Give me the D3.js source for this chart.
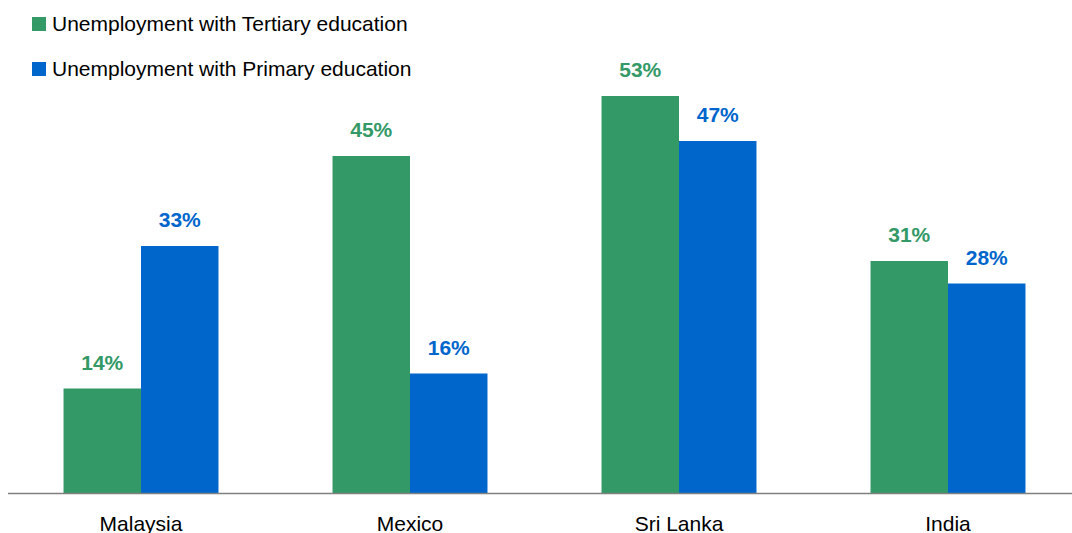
<!DOCTYPE html>
<html>
<head>
<meta charset="utf-8">
<script src="https://cdn.jsdelivr.net/npm/d3@7.9.0/dist/d3.min.js"></script>
<style>
  body { margin: 0; background: #fff; }
  svg { display: block; font-family: Arial, "Liberation Sans", sans-serif; }
</style>
</head>
<body>
<div id="chart"></div>
<script>
const countries = ['Malaysia', 'Mexico', 'Sri Lanka', 'India'];
const seriesNames = ['Unemployment with Tertiary education', 'Unemployment with Primary education'];
const tertiary = [14, 45, 53, 31];
const primary = [33, 16, 47, 28];
const colors = ['#339966', '#0066cc'];

const width = 1072;
const height = 533;
const baseY = 493.5;

const svg = d3.select('#chart')
  .append('svg')
  .attr('width', width)
  .attr('height', height);

const rows = countries.map((c, i) => ({ country: c, values: [tertiary[i], primary[i]] }));

const x0 = d3.scaleBand()
  .domain(countries)
  .range([6.5, 1082.5])
  .paddingInner(0.424)
  .paddingOuter(0.212);

const x1 = d3.scaleBand()
  .domain([0, 1])
  .range([0, x0.bandwidth()]);

const y = d3.scaleLinear().domain([0, 53]).range([baseY, 96]);

const groups = svg.append('g')
  .selectAll('g')
  .data(rows)
  .join('g')
  .attr('transform', d => `translate(${x0(d.country)},0)`);

groups.selectAll('rect')
  .data(d => d.values.map((v, k) => ({ v, k })))
  .join('rect')
  .attr('x', d => x1(d.k))
  .attr('y', d => y(d.v))
  .attr('width', x1.bandwidth())
  .attr('height', d => baseY - y(d.v))
  .attr('fill', d => colors[d.k]);

groups.selectAll('text')
  .data(d => d.values.map((v, k) => ({ v, k })))
  .join('text')
  .attr('x', d => x1(d.k) + x1.bandwidth() / 2)
  .attr('y', d => y(d.v) - 19)
  .attr('text-anchor', 'middle')
  .attr('font-size', 21)
  .attr('font-weight', 'bold')
  .attr('fill', d => colors[d.k])
  .text(d => d.v + '%');

// x axis
const xAxis = svg.append('g')
  .attr('transform', `translate(0,${baseY})`)
  .call(d3.axisBottom(x0).tickSize(0).tickPadding(0));
xAxis.select('.domain')
  .attr('d', `M8,0H${width}`)
  .attr('stroke', '#808080')
  .attr('stroke-width', 1.5);
xAxis.selectAll('text')
  .attr('font-size', 21)
  .attr('font-family', 'Arial, "Liberation Sans", sans-serif')
  .attr('fill', '#000')
  .attr('dy', null)
  .attr('y', 37);

// legend
const legend = svg.append('g')
  .selectAll('g')
  .data(seriesNames)
  .join('g')
  .attr('transform', (d, i) => `translate(32,${17 + i * 45})`);
legend.append('rect')
  .attr('width', 14)
  .attr('height', 14)
  .attr('fill', (d, i) => colors[i]);
legend.append('text')
  .attr('x', 20)
  .attr('y', 14)
  .attr('font-size', 21)
  .attr('fill', '#000')
  .text(d => d);
</script>
</body>
</html>
